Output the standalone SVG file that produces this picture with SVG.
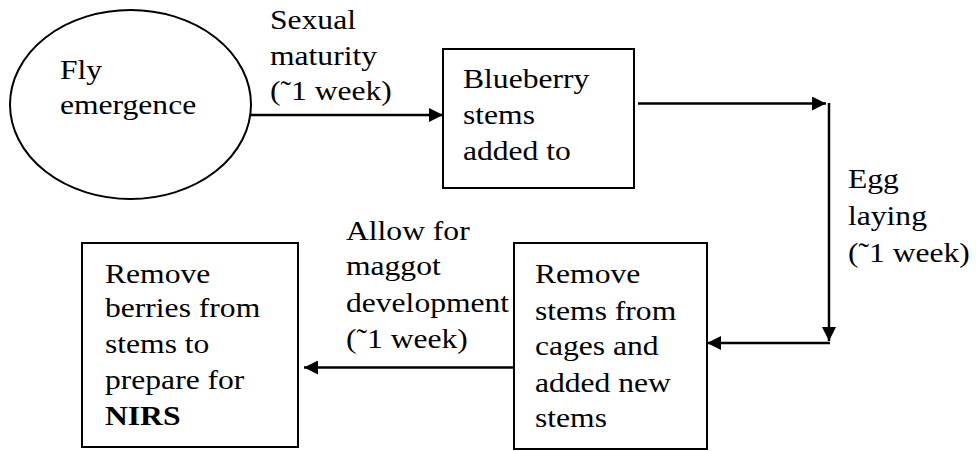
<svg xmlns="http://www.w3.org/2000/svg" width="976" height="451" viewBox="0 0 976 451">
<defs>
<marker id="ah" markerWidth="14" markerHeight="14" refX="14" refY="7" orient="auto" markerUnits="userSpaceOnUse">
<path d="M0,0 L14,7 L0,14 Z" fill="#000"/>
</marker>
<style>
.shape{fill:#fff;stroke:#000;stroke-width:2}
.conn{fill:none;stroke:#000;stroke-width:2.5}
.t{font-family:'Liberation Serif','Times New Roman',Times,'Noto Serif','DejaVu Serif',FreeSerif,serif;font-size:27px;fill:#000}
</style>
</defs>
<rect width="976" height="451" fill="#fff"/>
<g id="connectors">
<line class="conn" x1="251" y1="115" x2="443" y2="115" marker-end="url(#ah)"/>
<line class="conn" x1="638" y1="103.5" x2="826" y2="103.5" marker-end="url(#ah)"/>
<line class="conn" x1="829" y1="103" x2="829" y2="341" marker-end="url(#ah)"/>
<line class="conn" x1="830" y1="343" x2="707" y2="343" marker-end="url(#ah)"/>
<line class="conn" x1="520" y1="367.5" x2="304" y2="367.5" marker-end="url(#ah)"/>
</g>
<g id="label-sexual">
<text class="t" font-family="'Liberation Serif', 'Times New Roman', serif" transform="matrix(1.17 0 0 1 270 0)"><tspan x="0" y="29">Sexual</tspan><tspan x="0" y="65">maturity</tspan><tspan x="0" y="100">(˜1 week)</tspan></text>
</g>
<g id="label-egg">
<text class="t" font-family="'Liberation Serif', 'Times New Roman', serif" transform="matrix(1.17 0 0 1 848 0)"><tspan x="0" y="188">Egg</tspan><tspan x="0" y="225">laying</tspan><tspan x="0" y="262">(˜1 week)</tspan></text>
</g>
<g id="label-maggot">
<text class="t" font-family="'Liberation Serif', 'Times New Roman', serif" transform="matrix(1.17 0 0 1 346 0)"><tspan x="0" y="240">Allow for</tspan><tspan x="0" y="275">maggot</tspan><tspan x="0" y="312">development</tspan><tspan x="0" y="348">(˜1 week)</tspan></text>
</g>
<g id="node-fly">
<ellipse class="shape" cx="130.5" cy="104.5" rx="120.5" ry="94.5"/>
<text class="t" font-family="'Liberation Serif', 'Times New Roman', serif" transform="matrix(1.17 0 0 1 60 0)"><tspan x="0" y="79">Fly</tspan><tspan x="0" y="114">emergence</tspan></text>
</g>
<g id="node-blueberry">
<rect class="shape" x="443" y="49" width="191" height="139"/>
<text class="t" font-family="'Liberation Serif', 'Times New Roman', serif" transform="matrix(1.17 0 0 1 463 0)"><tspan x="0" y="88">Blueberry</tspan><tspan x="0" y="124">stems</tspan><tspan x="0" y="160">added to</tspan></text>
</g>
<g id="node-remove-stems">
<rect class="shape" x="514" y="243" width="193" height="206"/>
<text class="t" font-family="'Liberation Serif', 'Times New Roman', serif" transform="matrix(1.17 0 0 1 535 0)"><tspan x="0" y="283">Remove</tspan><tspan x="0" y="320">stems from</tspan><tspan x="0" y="355">cages and</tspan><tspan x="0" y="392">added new</tspan><tspan x="0" y="427">stems</tspan></text>
</g>
<g id="node-remove-berries">
<rect class="shape" x="82" y="243" width="216" height="204"/>
<text class="t" font-family="'Liberation Serif', 'Times New Roman', serif" transform="matrix(1.17 0 0 1 105 0)"><tspan x="0" y="283">Remove</tspan><tspan x="0" y="317">berries from</tspan><tspan x="0" y="353">stems to</tspan><tspan x="0" y="389">prepare for</tspan><tspan x="0" y="425" font-weight="bold">NIRS</tspan></text>
</g>
</svg>
